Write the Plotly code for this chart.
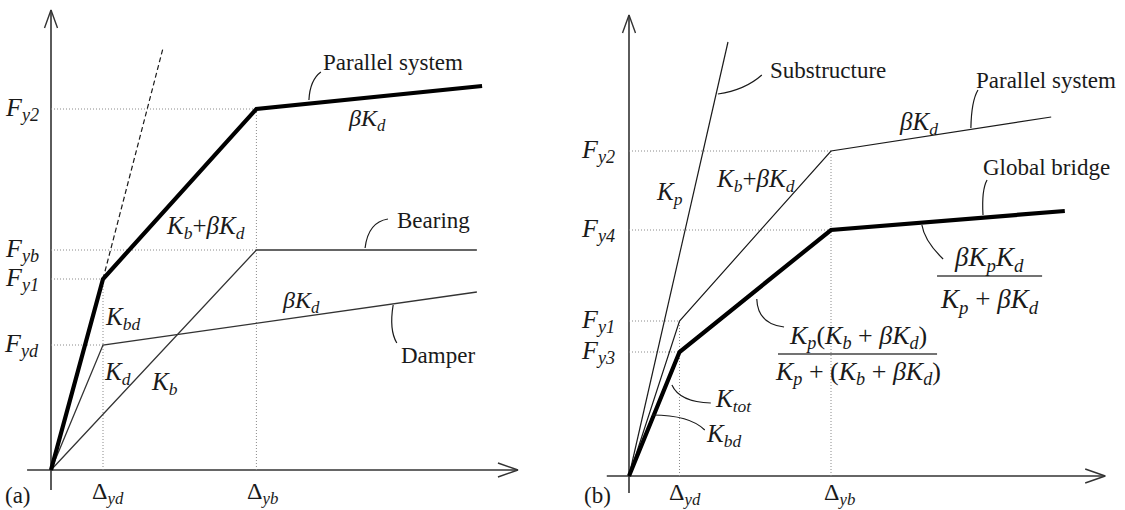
import plotly.graph_objects as go

# ---------------- data: panel (a) bearing + damper in parallel ----------------
a_delta_yd = 1.0
a_delta_yb = 3.95
a_F_y2, a_F_yb, a_F_y1, a_F_yd = 36.1, 22.0, 19.1, 12.5

parallel_a_x = [0.0, a_delta_yd, a_delta_yb, 8.29]
parallel_a_F = [0.0, a_F_y1, a_F_y2, 38.4]
bearing_a_x = [0.0, a_delta_yb, 8.19]
bearing_a_F = [0.0, a_F_yb, a_F_yb]
damper_a_x = [0.0, a_delta_yd, 8.19]
damper_a_F = [0.0, a_F_yd, 17.8]
kbd_ext_x = [a_delta_yd, 2.15]
kbd_ext_F = [a_F_y1, 42.1]

# ---------------- data: panel (b) parallel system + substructure ----------------
b_delta_yd = 1.0
b_delta_yb = 4.0
b_F_y2, b_F_y4, b_F_y1, b_F_y3 = 32.5, 24.6, 15.5, 12.4

sub_x = [0.0, 1.96]
sub_F = [0.0, 43.4]
parallel_b_x = [0.0, b_delta_yd, b_delta_yb, 8.36]
parallel_b_F = [0.0, b_F_y1, b_F_y2, 35.9]
global_x = [0.0, b_delta_yd, b_delta_yb, 8.63]
global_F = [0.0, b_F_y3, b_F_y4, 26.5]

# ---------------- page geometry ----------------
W, H = 1125, 510
# per panel: origin in pixels, pixels per unit along x and y, domain
PANELS = {
    "a": dict(ox=51, oy=470, sx=52.0, sy=10.0, dom=(0.0, 0.5), xa="x", ya="y"),
    "b": dict(ox=629, oy=476, sx=50.5, sy=10.0, dom=(0.5, 1.0), xa="x2", ya="y2"),
}

INK = "#1a1a1a"
AXIS = "#333333"
GRID = "#8a8a8a"
FONT = "Liberation Serif"
DOTS = "1px,2px"

fig = go.Figure()
shapes = []
annotations = []


def line(p, xs, ys, width=1.3, color=INK, dash=None):
    pp = PANELS[p]
    fig.add_trace(go.Scatter(
        x=xs, y=ys, mode="lines", xaxis=pp["xa"], yaxis=pp["ya"],
        line=dict(color=color, width=width, dash=dash), hoverinfo="skip",
        showlegend=False))


def text(p, x, y, s, size=24, xanchor="center", yanchor="middle"):
    pp = PANELS[p]
    annotations.append(dict(
        x=x, y=y, xref=pp["xa"], yref=pp["ya"], text=s, showarrow=False,
        xanchor=xanchor, yanchor=yanchor,
        font=dict(family=FONT, size=size, color=INK)))


def leader(p, x0, y0, cx, cy, x1, y1):
    pp = PANELS[p]
    shapes.append(dict(
        type="path", xref=pp["xa"], yref=pp["ya"],
        path=f"M {x0},{y0} Q {cx},{cy} {x1},{y1}",
        line=dict(color=INK, width=1.2)))


def hbar(p, x0, x1, y, width=1.3):
    pp = PANELS[p]
    shapes.append(dict(type="line", xref=pp["xa"], yref=pp["ya"],
                       x0=x0, x1=x1, y0=y, y1=y,
                       line=dict(color="#444444", width=width)))


def axes_with_arrows(p, x_min, x_tip, y_min, y_tip):
    pp = PANELS[p]
    sx, sy = pp["sx"], pp["sy"]
    line(p, [x_min, x_tip], [0, 0], width=1.6, color=AXIS)
    line(p, [0, 0], [y_min, y_tip], width=1.6, color=AXIS)
    # open V arrowheads
    line(p, [x_tip - 20 / sx, x_tip, x_tip - 20 / sx], [7 / sy, 0, -7 / sy],
         width=1.4, color=AXIS)
    line(p, [-6.5 / sx, 0, 6.5 / sx], [y_tip - 18 / sy, y_tip, y_tip - 18 / sy],
         width=1.4, color=AXIS)


def guide(p, x, y):
    """Dotted projection of a yield point onto both axes."""
    line(p, [0, x], [y, y], width=1, color=GRID, dash=DOTS)
    line(p, [x, x], [0, y], width=1, color=GRID, dash=DOTS)


def hguide(p, x, y):
    line(p, [0, x], [y, y], width=1, color=GRID, dash=DOTS)


def F(sub):
    return f"<i>F<sub>{sub}</sub></i>"


def D(sub):
    return f"Δ<sub><i>{sub}</i></sub>"


BKD = "<i>βK<sub>d</sub></i>"
KB_BKD = "<i>K<sub>b</sub></i>+<i>βK<sub>d</sub></i>"

# ======================= panel (a) =======================
axes_with_arrows("a", -0.46, 8.98, -2.0, 46.0)
guide("a", a_delta_yb, a_F_y2)
guide("a", a_delta_yd, a_F_y1)
hguide("a", a_delta_yb, a_F_yb)
hguide("a", a_delta_yd, a_F_yd)

line("a", kbd_ext_x, kbd_ext_F, width=1.2, dash="5px,3px")
line("a", bearing_a_x, bearing_a_F, width=1.3, color="#333333")
line("a", damper_a_x, damper_a_F, width=1.3, color="#333333")
line("a", parallel_a_x, parallel_a_F, width=4.2, color="#000000")

for lab, val in [("y2", a_F_y2), ("yb", a_F_yb), ("y1", a_F_y1), ("yd", a_F_yd)]:
    text("a", -0.2, val, F(lab), size=26, xanchor="right")

text("a", 6.58, 40.8, "Parallel system", size=23)
leader("a", 5.19, 39.8, 4.98, 39.0, 4.96, 37.0)
text("a", 6.08, 35.0, BKD)
text("a", 2.98, 24.3, KB_BKD, size=25)
text("a", 7.35, 25.0, "Bearing", size=23)
leader("a", 6.48, 25.1, 6.1, 24.8, 6.04, 22.2)
text("a", 4.81, 16.8, BKD)
text("a", 7.44, 11.5, "Damper", size=23)
leader("a", 6.58, 16.5, 6.5, 14.0, 6.65, 12.7)
text("a", 1.38, 15.2, "<i>K<sub>bd</sub></i>", size=25)
text("a", 1.27, 9.7, "<i>K<sub>d</sub></i>", size=25)
text("a", 2.19, 8.7, "<i>K<sub>b</sub></i>", size=25)
text("a", -0.63, -2.5, "(a)", size=23)
text("a", a_delta_yd + 0.1, -2.3, D("yd"), size=24)
text("a", a_delta_yb + 0.12, -2.3, D("yb"), size=24)

# ======================= panel (b) =======================
axes_with_arrows("b", -0.44, 9.43, -1.7, 46.1)
guide("b", b_delta_yb, b_F_y2)
guide("b", b_delta_yd, b_F_y1)
hguide("b", b_delta_yb, b_F_y4)
hguide("b", b_delta_yd, b_F_y3)

line("b", sub_x, sub_F, width=1.2)
line("b", parallel_b_x, parallel_b_F, width=1.2)
line("b", global_x, global_F, width=4.2, color="#000000")

for lab, val in [("y2", b_F_y2), ("y4", b_F_y4), ("y1", b_F_y1), ("y3", b_F_y3)]:
    text("b", -0.24, val, F(lab), size=26, xanchor="right")

text("b", 2.75, 40.6, "Substructure", size=23, xanchor="left")
leader("b", 1.76, 38.2, 2.3, 38.6, 2.63, 40.1)
text("b", 0.81, 28.3, "<i>K<sub>p</sub></i>", size=25)
text("b", 2.5, 29.6, KB_BKD, size=25)
text("b", 5.74, 35.3, BKD, size=25)
text("b", 8.26, 39.6, "Parallel system", size=23)
leader("b", 6.91, 38.6, 6.78, 37.5, 6.77, 34.8)
text("b", 8.26, 30.9, "Global bridge", size=23)
leader("b", 7.09, 29.6, 6.98, 28.6, 7.01, 26.1)

# stiffness of the global bridge after damper yield
text("b", 7.13, 21.7, "<i>βK<sub>p</sub>K<sub>d</sub></i>", size=27)
hbar("b", 6.1, 8.18, 20.0)
text("b", 7.13, 17.5, "<i>K<sub>p</sub></i> + <i>βK<sub>d</sub></i>", size=27)
leader("b", 5.80, 25.1, 5.85, 23.5, 6.22, 21.7)

# stiffness of the global bridge between the two yield points
text("b", 4.53, 13.9,
     "<i>K<sub>p</sub></i>(<i>K<sub>b</sub></i> + <i>βK<sub>d</sub></i>)", size=26)
hbar("b", 2.95, 6.10, 12.2)
text("b", 4.53, 10.3,
     "<i>K<sub>p</sub></i> + (<i>K<sub>b</sub></i> + <i>βK<sub>d</sub></i>)", size=26)
leader("b", 2.53, 17.7, 2.55, 15.2, 3.07, 14.9)

text("b", 2.06, 7.6, "<i>K<sub>tot</sub></i>", size=25)
leader("b", 0.85, 9.1, 1.0, 7.4, 1.62, 7.3)
text("b", 1.88, 4.1, "<i>K<sub>bd</sub></i>", size=25)
leader("b", 0.46, 6.1, 1.2, 6.1, 1.5, 4.6)
text("b", -0.63, -1.9, "(b)", size=23)
text("b", b_delta_yd + 0.1, -1.8, D("yd"), size=24)
text("b", b_delta_yb + 0.16, -1.8, D("yb"), size=24)

# ---------------- axes: map units to page pixels ----------------
layout_axes = {}
for key, pp in PANELS.items():
    left_px = pp["dom"][0] * W
    right_px = pp["dom"][1] * W
    xr = [(left_px - pp["ox"]) / pp["sx"], (right_px - pp["ox"]) / pp["sx"]]
    yr = [(pp["oy"] - H) / pp["sy"], pp["oy"] / pp["sy"]]
    xname = "xaxis" if pp["xa"] == "x" else "xaxis2"
    yname = "yaxis" if pp["ya"] == "y" else "yaxis2"
    hidden = dict(visible=False, showgrid=False, zeroline=False, fixedrange=True)
    layout_axes[xname] = dict(domain=list(pp["dom"]), range=xr, anchor=pp["ya"], **hidden)
    layout_axes[yname] = dict(domain=[0, 1], range=yr, anchor=pp["xa"], **hidden)

fig.update_layout(
    width=W, height=H,
    margin=dict(l=0, r=0, t=0, b=0),
    paper_bgcolor="white", plot_bgcolor="white",
    showlegend=False,
    shapes=shapes, annotations=annotations,
    **layout_axes,
)

fig.write_html("out.html")
